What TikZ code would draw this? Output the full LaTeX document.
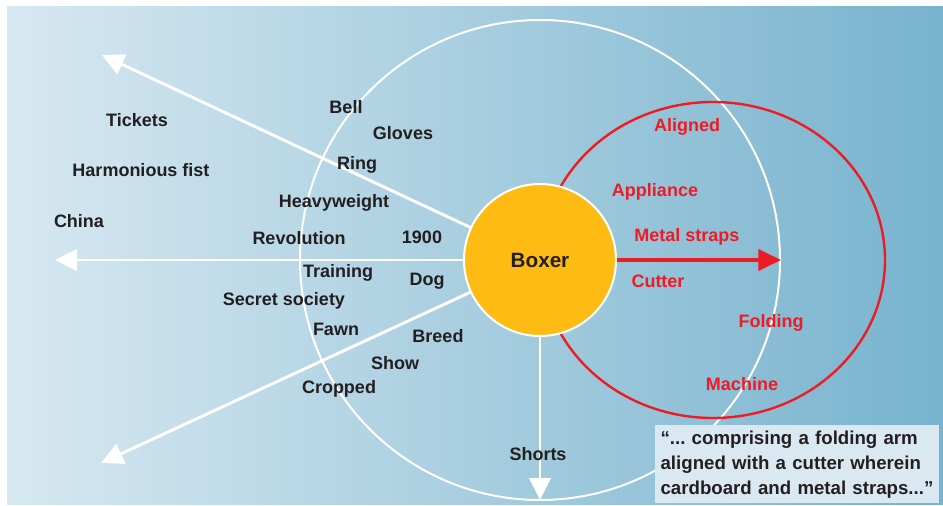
\documentclass[tikz,border=0pt]{standalone}
\usepackage{fontspec}
\setmainfont{Liberation Sans}
\usetikzlibrary{arrows.meta}
\definecolor{bgleft}{RGB}{215,232,241}
\definecolor{bgright}{RGB}{120,179,206}
\definecolor{boxeryellow}{RGB}{253,187,19}
\definecolor{patentred}{RGB}{237,28,36}
\definecolor{inkdark}{RGB}{35,31,32}
\definecolor{quotefill}{RGB}{218,233,241}
\frenchspacing
\begin{document}
\begin{tikzpicture}[x=0.75pt,y=-0.75pt,
  lbl/.style={font=\fontsize{13.5}{16}\selectfont\bfseries, text=inkdark, inner sep=0pt},
  redlbl/.style={lbl, text=patentred},
  wline/.style={draw=white, line width=2.2pt, -{Triangle[length=16.5pt,width=16pt]}},
  rline/.style={draw=patentred, line width=2.5pt, -{Triangle[length=17pt,width=16pt]}},
  hubnode/.style={circle, minimum size=114pt, inner sep=0pt, fill=boxeryellow, draw=white, line width=1.5pt,
    font=\fontsize{15.5}{18}\selectfont\bfseries, text=inkdark},
  quote/.style={fill=quotefill, anchor=north west, inner xsep=4pt, inner ysep=4pt,
    text width=205pt, align=left, font=\fontsize{14}{18.75}\selectfont\bfseries, text=inkdark}
]
\useasboundingbox (0,0) rectangle (943,506);
% background
\shade[left color=bgleft, right color=bgright] (7,7) rectangle (943,504);

% rings
\coordinate (hub) at (540,260);
\draw[white, line width=1.5pt] (hub) circle[radius=240];
\draw[patentred, line width=1.8pt] (713,260) ellipse[x radius=172, y radius=158];

% arrow end points
\coordinate (tipNW) at (102,55);
\coordinate (tipW) at (55,260);
\coordinate (tipSW) at (101,463);
\coordinate (tipS) at (540,500);
\coordinate (tipE) at (781,260);

\draw[wline] (hub) -- (tipNW);
\draw[wline] (hub) -- (tipW);
\draw[wline] (hub) -- (tipSW);
\draw[wline] (hub) -- (tipS);
\draw[rline] (hub) -- (tipE);

% centre
\node[hubnode] (boxer) at (hub) {Boxer};

% associations
\node[lbl] (tickets) at (137,120) {Tickets};
\node[lbl] (fist) at (141,170) {Harmonious fist};
\node[lbl] (china) at (79,221) {China};
\node[lbl] (bell) at (346,107) {Bell};
\node[lbl] (gloves) at (403,133) {Gloves};
\node[lbl] (ring) at (357,165) {Ring};
\node[lbl] (heavy) at (334,203) {Heavyweight};
\node[lbl] (revolution) at (299,238) {Revolution};
\node[lbl] (year) at (422,237) {1900};
\node[lbl] (training) at (338,273) {Training};
\node[lbl] (dog) at (427,281) {Dog};
\node[lbl] (society) at (284,301) {Secret society};
\node[lbl] (fawn) at (336,329) {Fawn};
\node[lbl] (breed) at (438,336) {Breed};
\node[lbl] (show) at (395,363) {Show};
\node[lbl] (cropped) at (339,389) {Cropped};
\node[lbl] (shorts) at (538,454) {Shorts};

% patent terms
\node[redlbl] (aligned) at (687,127) {Aligned};
\node[redlbl] (appliance) at (655,192) {Appliance};
\node[redlbl] (straps) at (687,237) {Metal straps};
\node[redlbl] (cutter) at (658,281) {Cutter};
\node[redlbl] (folding) at (771,323) {Folding};
\node[redlbl] (machine) at (742,384) {Machine};

% claim excerpt
\node[quote] (claim) at (655,425) {“... comprising a folding arm\\aligned with a cutter wherein\\cardboard and metal straps...”};
\end{tikzpicture}
\end{document}
